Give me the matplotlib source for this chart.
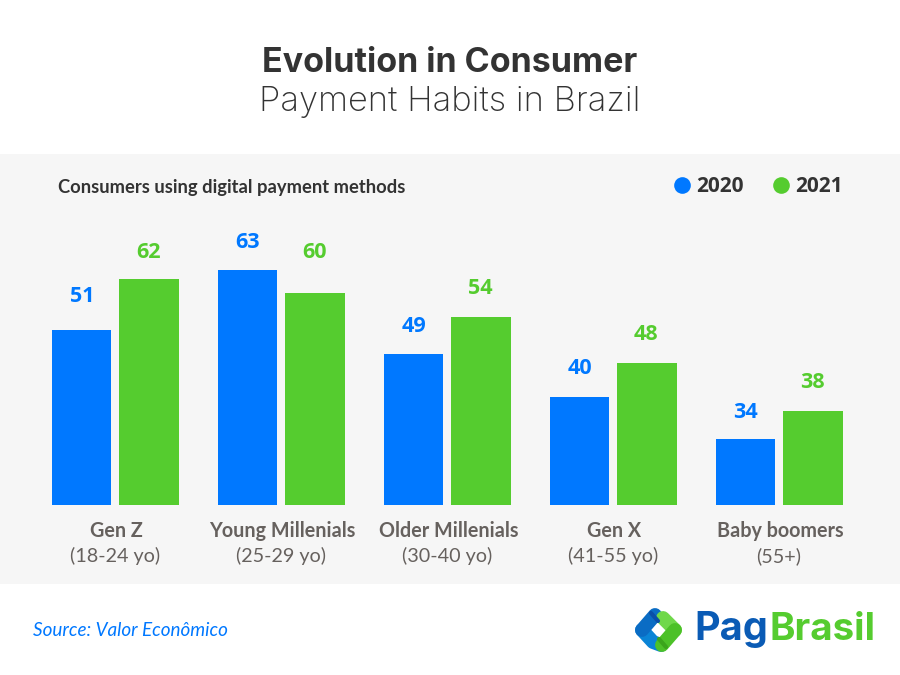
import matplotlib
matplotlib.use('Agg')
import matplotlib.pyplot as plt

plt.rcParams['font.family'] = ['Lato', 'DejaVu Sans']

groups = ['Gen Z', 'Young Millenials', 'Older Millenials', 'Gen X', 'Baby boomers']
ages = ['(18-24 yo)', '(25-29 yo)', '(30-40 yo)', '(41-55 yo)', '(55+)']
values_2020 = [51, 63, 49, 40, 34]
values_2021 = [62, 60, 54, 48, 38]
# bars in the picture are not proportional to their labels, so lengths are read off separately
heights_2020 = [175, 235, 151, 108, 66]
heights_2021 = [226, 212, 188, 142, 94]

BLUE = '#0078FF'
GREEN = '#55CC2F'
DARK = '#333333'
GREY = '#66615E'

fig = plt.figure(figsize=(9, 6.75), dpi=100, facecolor='white')

# overlay in pixel coordinates for the titles, footer and logo
over = fig.add_axes([0, 0, 1, 1], zorder=2)
over.set_xlim(0, 900)
over.set_ylim(675, 0)
over.axis('off')

# grey panel holding the bars
ax = fig.add_axes([0, (675 - 584) / 675, 1, 430 / 675], zorder=1)
ax.set_facecolor('#F6F6F6')
ax.set_xlim(-115 / 166, 785 / 166)
ax.set_ylim(-79, 351)
for s in ax.spines.values():
    s.set_visible(False)
ax.set_xticks([])
ax.set_yticks([])

# label gaps above the bars, uneven in the original
gaps_2020 = [34, 27, 28, 28, 27]
gaps_2021 = [26, 41, 29, 28, 28]
num_font = ['Open Sans', 'DejaVu Sans']

for i in range(len(groups)):
    ax.bar(i - 0.2, heights_2020[i], width=0.356, color=BLUE)
    ax.bar(i + 0.205, heights_2021[i], width=0.356, color=GREEN)
    ax.text(i - 0.2, heights_2020[i] + gaps_2020[i], str(values_2020[i]), color=BLUE, fontsize=15.5,
            fontweight='bold', ha='center', va='center', family=num_font)
    ax.text(i + 0.2, heights_2021[i] + gaps_2021[i], str(values_2021[i]), color=GREEN, fontsize=15.5,
            fontweight='bold', ha='center', va='center', family=num_font)
    ax.text(i + 0.008, -26, groups[i], color=GREY, fontsize=14.2, fontweight='bold', ha='center', va='center')
    ax.text(i, -51, ages[i], color=GREY, fontsize=14.2, ha='center', va='center')

over.text(450, 63, 'Evolution in Consumer', color=DARK, fontsize=24.5, fontweight='bold',
          ha='center', va='center', family=['Inter', 'DejaVu Sans'])
over.text(450, 102, 'Payment Habits in Brazil', color=DARK, fontsize=24.9, fontweight='light',
          ha='center', va='center', family=['Inter', 'DejaVu Sans'])

over.text(58, 188, 'Consumers using digital payment methods', color=DARK, fontsize=13.25,
          fontweight='bold', ha='left', va='center')

# legend
over.plot([682], [185], 'o', color=BLUE, ms=12, mew=0)
over.text(696, 187, '2020', color=DARK, fontsize=15, fontweight='bold', ha='left', va='center', family=num_font)
over.plot([781], [185], 'o', color=GREEN, ms=12, mew=0)
over.text(795, 187, '2021', color=DARK, fontsize=15, fontweight='bold', ha='left', va='center', family=num_font)

over.text(33, 631, 'Source: Valor Econômico', color=BLUE, fontsize=13.55, style='italic', ha='left', va='center')

# logo mark
stroke = dict(lw=10, solid_capstyle='round', solid_joinstyle='round')
over.plot([642, 653, 661], [630, 642, 645], color='#0A84D6', **stroke)
over.plot([642, 655], [630, 615], color='#0A6CC4', **stroke)
over.plot([675, 663], [630, 618], color='#6FD84A', **stroke)
over.plot([675, 662], [630, 645], color='#4CC128', **stroke)
over.plot([651, 658], [613, 621], color='#0A4FA8', lw=3, solid_capstyle='round')
over.plot([666, 659], [647, 639], color='#3BA51C', lw=3, solid_capstyle='round')

# wordmark
over.text(694, 630, 'Pag', color='#0A5BB5', fontsize=28.5, fontweight='bold', ha='left', va='center',
          family=['Inter', 'DejaVu Sans'])
over.text(769, 630, 'Brasil', color=GREEN, fontsize=27.8, fontweight='bold', ha='left', va='center',
          family=['Inter', 'DejaVu Sans'])

fig.savefig('out.png', dpi=100)
